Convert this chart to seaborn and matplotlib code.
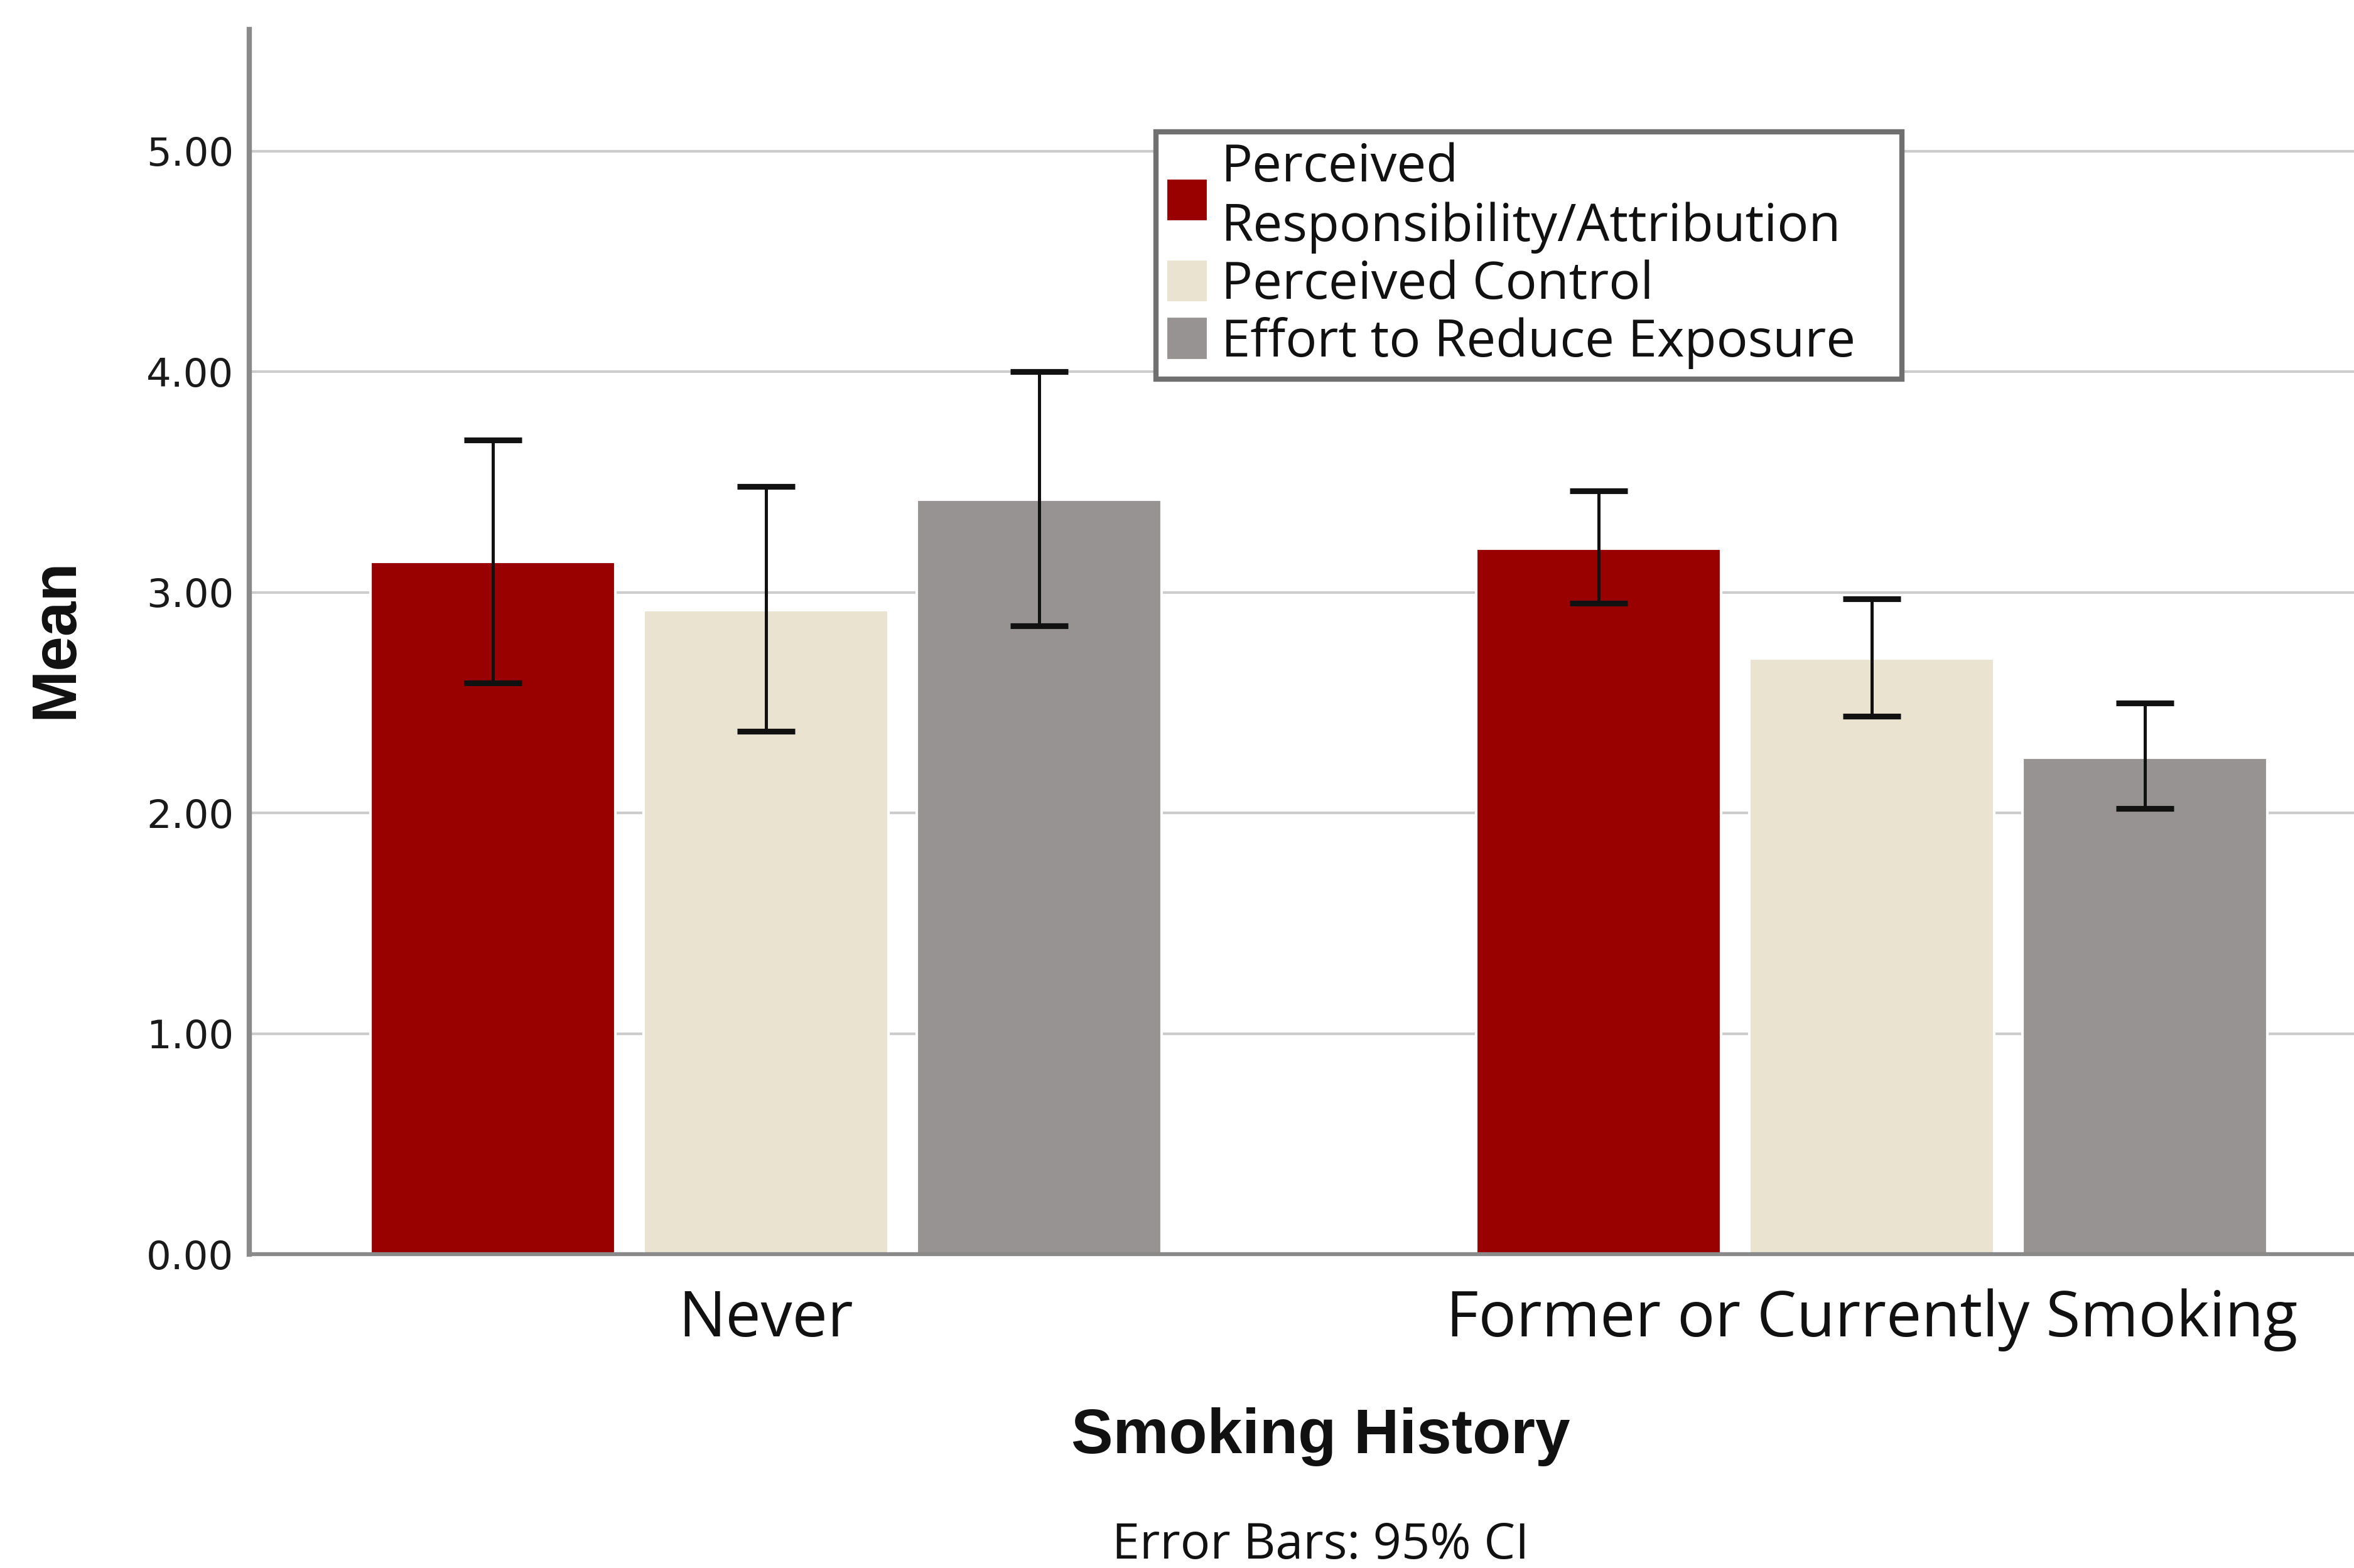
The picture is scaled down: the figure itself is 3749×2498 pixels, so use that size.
import matplotlib
matplotlib.use("Agg")
import matplotlib.pyplot as plt
import seaborn as sns
import pandas as pd
import numpy as np

# Group means and 95% confidence intervals by smoking history
groups = ["Never", "Former or Currently Smoking"]
measures = ["Perceived\nResponsibility/Attribution", "Perceived Control",
            "Effort to Reduce Exposure"]
means_never = [3.14, 2.92, 3.42]
means_former = [3.20, 2.70, 2.25]
ci_low_never = [2.59, 2.37, 2.85]
ci_high_never = [3.69, 3.48, 4.00]
ci_low_former = [2.95, 2.44, 2.02]
ci_high_former = [3.46, 2.97, 2.50]
y_ticks = [0, 1, 2, 3, 4, 5]
colors = ["#990000", "#E9E3CF", "#979393"]

sns.set_theme(style="white")
plt.rcParams["font.family"] = ["Open Sans", "DejaVu Sans"]
plt.rcParams["text.color"] = "#111111"
plt.rcParams["axes.labelcolor"] = "#111111"

df = pd.DataFrame({
    "group": np.repeat(groups, len(measures)),
    "measure": measures * len(groups),
    "mean": means_never + means_former,
    "lo": ci_low_never + ci_low_former,
    "hi": ci_high_never + ci_high_former,
})

fig = plt.figure(figsize=(3749 / 300, 2498 / 300), dpi=300)
fig.patch.set_facecolor("white")
ax = fig.add_axes([0.106, 0.2, 0.894, 0.781])

sns.barplot(data=df, x="group", y="mean", hue="measure", order=groups,
            hue_order=measures, palette=colors, saturation=1, width=0.741,
            gap=0.105, errorbar=None, ax=ax, zorder=2)

# 95% CI whiskers at the centre of each bar
for measure, container in zip(measures, ax.containers):
    sub = df[df["measure"] == measure].set_index("group").loc[groups]
    xs = [b.get_x() + b.get_width() / 2 for b in container]
    m = sub["mean"].to_numpy()
    yerr = np.vstack([m - sub["lo"].to_numpy(), sub["hi"].to_numpy() - m])
    ax.errorbar(xs, m, yerr=yerr, fmt="none", ecolor="#111111",
                elinewidth=1.2, capsize=11, capthick=2.2, zorder=3)

ax.set_ylim(0, 5.55)
ax.set_xlim(-0.467, 1.436)
ax.set_yticks(y_ticks)
ax.set_yticklabels([f"{v:.2f}" for v in y_ticks], family="DejaVu Sans",
                   fontsize=15, color="#1A1A1A")
ax.tick_params(axis="y", length=0, pad=6)
ax.tick_params(axis="x", length=0, pad=13, labelsize=24, labelcolor="#111111")
ax.yaxis.grid(True, color="#CCCCCC", linewidth=1.0)
ax.set_axisbelow(True)

for side in ["top", "right"]:
    ax.spines[side].set_visible(False)
ax.spines["left"].set_color("#8A8A8A")
ax.spines["left"].set_linewidth(2.0)
ax.spines["bottom"].set_color("#8A8A8A")
ax.spines["bottom"].set_linewidth(1.5)

ax.set_ylabel("Mean", family="Liberation Sans", fontweight="bold",
              fontsize=24)
ax.set_xlabel("Smoking History", family="Liberation Sans", fontweight="bold",
              fontsize=24)
ax.xaxis.set_label_coords(0.509, -0.125)
ax.yaxis.set_label_coords(-0.078, 0.503)

handles, labels = ax.get_legend_handles_labels()
leg = ax.legend(handles, labels, loc="upper left",
                bbox_to_anchor=(0.491, 0.75, 0.317, 0.1658), mode="expand",
                bbox_transform=fig.transFigure, frameon=True, fancybox=False,
                edgecolor="#707070", framealpha=1, fontsize=20,
                handlelength=0.8, handleheight=0.9, handletextpad=0.25,
                labelspacing=0.1, borderpad=0.2, borderaxespad=0)
leg.get_frame().set_linewidth(2.0)

fig.text(0.561, 0.0144, "Error Bars: 95% CI", ha="center", va="center",
         fontsize=19, color="#111111")

fig.savefig("out.png", dpi=300, facecolor="white")
